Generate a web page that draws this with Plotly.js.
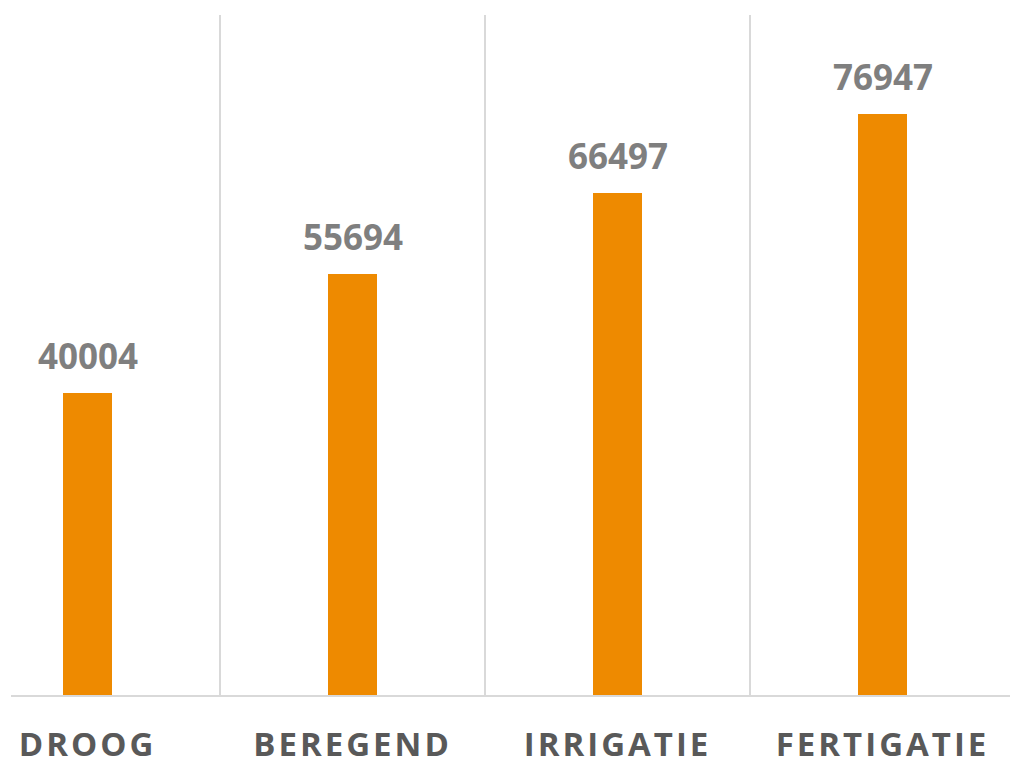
<!DOCTYPE html>
<html>
<head>
<meta charset="utf-8">
<script src="https://cdn.plot.ly/plotly-3.0.1.min.js"></script>
<style>
html,body{margin:0;padding:0;background:#fff;}
.xtick text{letter-spacing:3px;}
</style>
</head>
<body>
<div id="chart" style="width:1010px;height:762px;"></div>
<script>
const categories = ["DROOG", "BEREGEND", "IRRIGATIE", "FERTIGATIE"];
const values = [40004, 55694, 66497, 76947];

const barColor = "#EE8A00";

const trace = {
  type: "bar",
  x: categories,
  y: values,
  width: 0.185,
  marker: {color: barColor},
  hoverinfo: "none"
};

const annotations = categories.map((c, i) => ({
  x: c,
  y: values[i],
  xref: "x",
  yref: "y",
  text: String(values[i]),
  showarrow: false,
  yanchor: "bottom",
  yshift: 12,
  font: {family: "Open Sans, sans-serif", size: 35, color: "#7F7F7F", weight: "bold"}
}));

const layout = {
  width: 1010,
  height: 762,
  margin: {l: 11, r: 0, t: 15, b: 67},
  paper_bgcolor: "#ffffff",
  plot_bgcolor: "#ffffff",
  showlegend: false,
  bargap: 0,
  xaxis: {
    type: "category",
    range: [-0.289, 3.481],
    tickson: "boundaries",
    showgrid: true,
    gridcolor: "#D9D9D9",
    gridwidth: 1.3,
    showline: true,
    linecolor: "#D9D9D9",
    linewidth: 1.5,
    ticks: "",
    ticklabelstandoff: 20,
    tickfont: {family: "Open Sans, sans-serif", size: 33, color: "#595959", weight: "bold"},
    zeroline: false,
    fixedrange: true
  },
  yaxis: {
    range: [0, 90000],
    showgrid: false,
    showticklabels: false,
    zeroline: false,
    showline: false,
    ticks: "",
    fixedrange: true
  },
  annotations: annotations
};

Plotly.newPlot("chart", [trace], layout, {displayModeBar: false, staticPlot: true});
</script>
</body>
</html>
